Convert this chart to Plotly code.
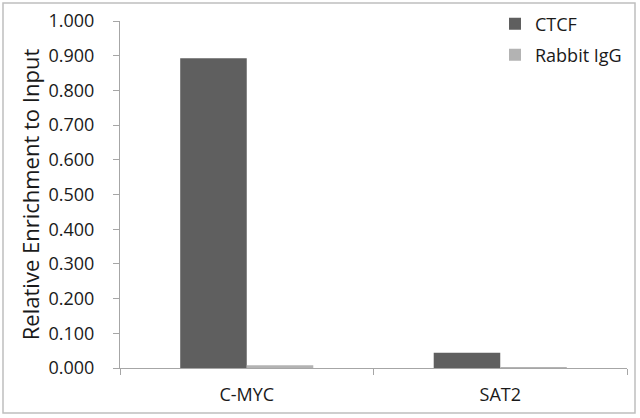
import plotly.graph_objects as go

categories = ["C-MYC", "SAT2"]
ctcf = [0.893, 0.044]
rabbit_igg = [0.008, 0.002]

W, H = 640, 418
ml, mr, mt, mb = 120, 13, 21, 50

fig = go.Figure()
fig.add_trace(go.Bar(x=categories, y=ctcf, name="CTCF", legend="legend",
                     marker=dict(color="#5f5f5f", line=dict(width=0))))
fig.add_trace(go.Bar(x=categories, y=rabbit_igg, name="Rabbit IgG",
                     legend="legend2",
                     marker=dict(color="#b3b3b3", line=dict(width=0))))

font = "Open Sans, Liberation Sans, sans-serif"
pw, ph = W - ml - mr, H - mt - mb

leg = dict(x=(495 - ml) / pw, xanchor="left", yanchor="middle",
           font=dict(size=18), bgcolor="rgba(0,0,0,0)", itemwidth=30)

fig.update_layout(
    width=W, height=H,
    margin=dict(l=ml, r=mr, t=mt, b=mb, autoexpand=False),
    paper_bgcolor="white", plot_bgcolor="white",
    barmode="group", bargap=0.475, bargroupgap=0,
    font=dict(family=font, size=18, color="#1a1a1a"),
    showlegend=True,
    legend=dict(leg, y=1 - (24 - mt) / ph),
    legend2=dict(leg, y=1 - (55 - mt) / ph),
    xaxis=dict(showline=True, linecolor="#a6a6a6", linewidth=1,
               ticks="outside", tickson="boundaries", ticklen=6,
               tickcolor="#a6a6a6", tickfont=dict(size=18),
               ticklabelstandoff=10,
               showgrid=False, zeroline=False),
    yaxis=dict(range=[0, 1], dtick=0.1, tickformat=".3f",
               showline=True, linecolor="#a6a6a6", linewidth=1,
               ticks="outside", ticklen=6, tickcolor="#a6a6a6",
               tickfont=dict(size=18), ticklabelstandoff=15,
               showgrid=False, zeroline=False,
               title=dict(text="Relative Enrichment to Input",
                          font=dict(size=22), standoff=2)),
)

# gray frame around the image
fig.add_shape(type="rect", xref="paper", yref="paper",
              x0=-(ml - 3) / pw, x1=1 + (mr - 5) / pw,
              y0=-(mb - 5) / ph, y1=1 + (mt - 3) / ph,
              line=dict(color="#bfbfbf", width=1.5), layer="below")

fig.write_html("out.html", config={"displayModeBar": False},
               post_script="document.body.style.margin='0';")
